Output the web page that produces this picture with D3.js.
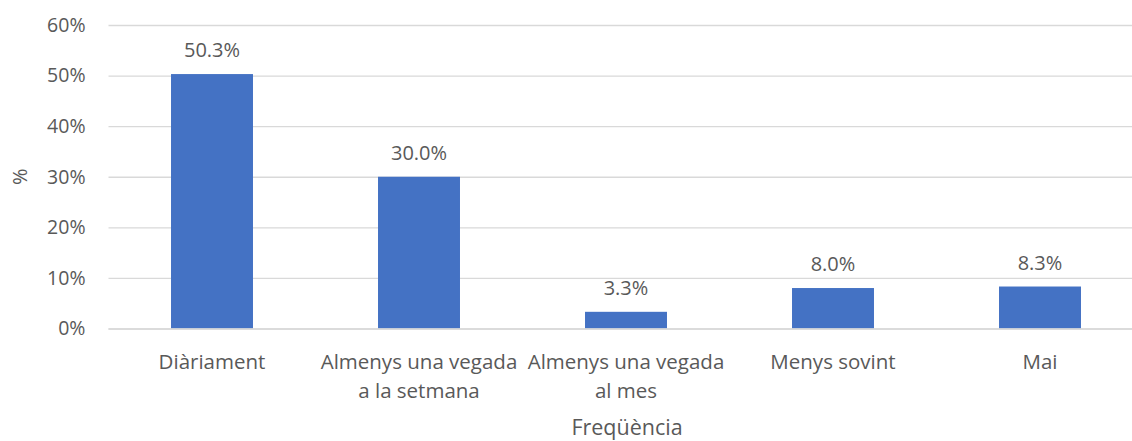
<!DOCTYPE html>
<html>
<head>
<meta charset="utf-8">
<script src="https://cdn.jsdelivr.net/npm/d3@7"></script>
<style>
  body { margin: 0; background: #fff; }
  text { font-family: "Open Sans", sans-serif; fill: #595959; }
</style>
</head>
<body>
<div id="chart"></div>
<script>
// chart data
const categories = [
    ["Diàriament"],
    ["Almenys una vegada", "a la setmana"],
    ["Almenys una vegada", "al mes"],
    ["Menys sovint"],
    ["Mai"]
];
const values = [0.503, 0.300, 0.033, 0.080, 0.083];
const valueLabels = ["50.3%", "30.0%", "3.3%", "8.0%", "8.3%"];
const yTicks = [0, 0.1, 0.2, 0.3, 0.4, 0.5, 0.6];
const xTitle = "Freqüència";
const yTitle = "%";

let width = 1132;
let height = 441;
let margin = { top: 25, right: -11.5, bottom: 112.5, left: 108.5 };

let svg = d3.select("#chart")
    .append("svg")
    .attr("width", width)
    .attr("height", height);

let keys = categories.map((d, i) => i);

// band scale, outer padding = half inner so steps are even
let xScale = d3.scaleBand()
    .domain(keys)
    .range([margin.left, width - margin.right])
    .paddingInner(0.604)
    .paddingOuter(0.302);

let yScale = d3.scaleLinear()
    .domain([0, 0.6])
    .range([height - margin.bottom, margin.top]);

// gridlines + y tick labels
let yAxis = d3.axisLeft(yScale)
    .tickValues(yTicks)
    .tickFormat(d3.format(".0%"))
    .tickSize(-(width - margin.left))
    .tickPadding(23);

let gy = svg.append("g")
    .attr("transform", `translate(${margin.left},0)`)
    .call(yAxis);
gy.select(".domain").remove();
gy.selectAll(".tick line")
    .attr("stroke", "#d9d9d9")
    .attr("stroke-width", 1.3);
gy.selectAll(".tick text")
    .style("font-size", "19.5px")
    .attr("fill", "#595959");

// bars
svg.selectAll("rect.bar")
    .data(values)
    .join("rect")
    .attr("class", "bar")
    .attr("x", (d, i) => xScale(i))
    .attr("width", xScale.bandwidth())
    .attr("y", d => yScale(d))
    .attr("height", d => yScale(0) - yScale(d))
    .attr("fill", "#4472c4");

// baseline
svg.append("line")
    .attr("x1", margin.left)
    .attr("x2", width)
    .attr("y1", yScale(0) + 0.5)
    .attr("y2", yScale(0) + 0.5)
    .attr("stroke", "#d9d9d9")
    .attr("stroke-width", 1.5);

// value labels
svg.selectAll("text.val")
    .data(values)
    .join("text")
    .attr("class", "val")
    .attr("x", (d, i) => xScale(i) + xScale.bandwidth() / 2)
    .attr("y", d => yScale(d) - 17)
    .attr("text-anchor", "middle")
    .style("font-size", "20px")
    .text((d, i) => valueLabels[i]);

// category labels (x axis)
let gx = svg.append("g")
    .selectAll("text")
    .data(categories)
    .join("text")
    .attr("x", (d, i) => xScale(i) + xScale.bandwidth() / 2)
    .attr("y", yScale(0) + 40)
    .attr("text-anchor", "middle")
    .style("font-size", "20.5px");
gx.selectAll("tspan")
    .data(d => d)
    .join("tspan")
    .attr("x", function () { return this.parentNode.getAttribute("x"); })
    .attr("dy", (d, i) => i === 0 ? 0 : 29)
    .text(d => d);

// axis titles
svg.append("text")
    .attr("x", 627)
    .attr("y", 435)
    .attr("text-anchor", "middle")
    .style("font-size", "21.5px")
    .text(xTitle);

svg.append("text")
    .attr("transform", `translate(27, ${yScale(0.3)}) rotate(-90)`)
    .attr("text-anchor", "middle")
    .style("font-size", "20px")
    .text(yTitle);
</script>
</body>
</html>
